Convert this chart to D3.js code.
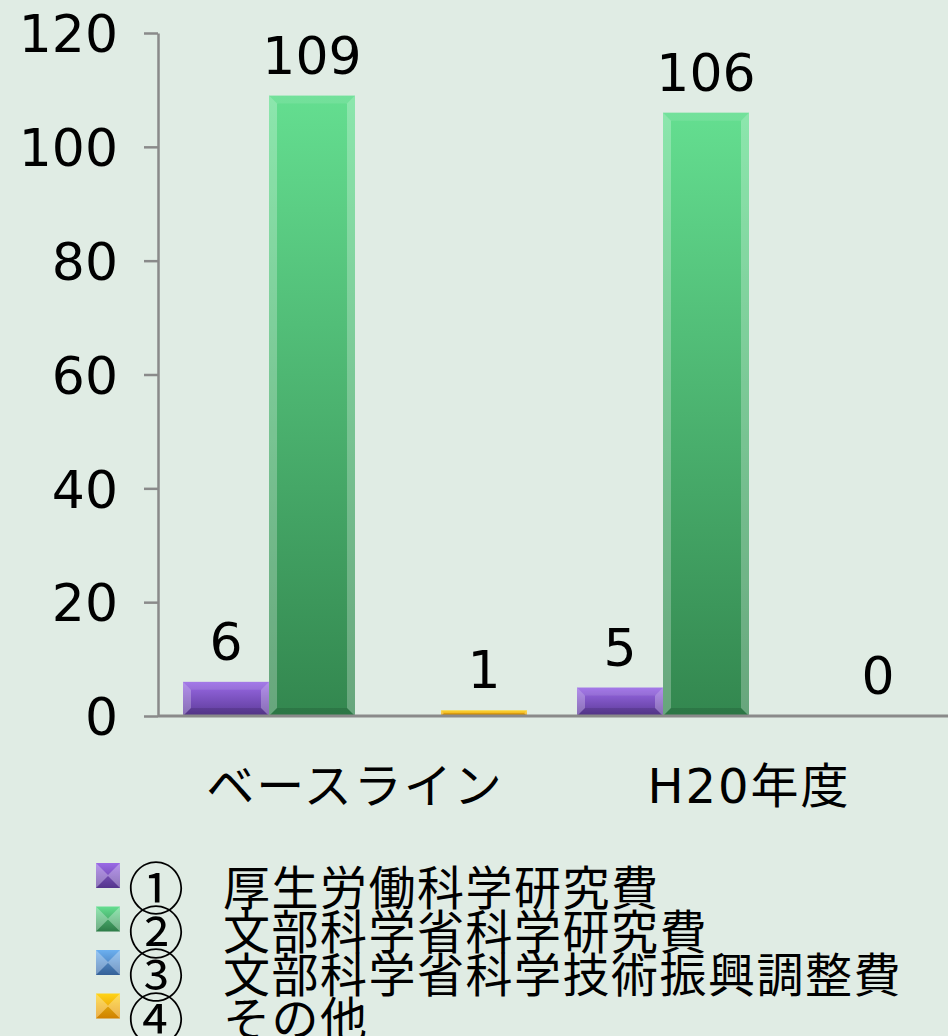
<!DOCTYPE html>
<html>
<head>
<meta charset="utf-8">
<script src="https://cdn.jsdelivr.net/npm/d3@7"></script>
<style>
  html, body { margin: 0; padding: 0; background: #e0ece4; }
  svg { display: block; }
</style>
</head>
<body>
<svg id="chart" width="948" height="1036"></svg>
<script>
// Categories and series
const categories = ["ベースライン", "H20年度"];
const seriesMarks = ["①", "②", "③", "④"];
const seriesNames = [
  "厚生労働科学研究費",
  "文部科学省科学研究費",
  "文部科学省科学技術振興調整費",
  "その他"
];
const seriesValues = [
  [6, 5],        // 厚生労働科学研究費
  [109, 106],    // 文部科学省科学研究費
  [null, null],  // 文部科学省科学技術振興調整費
  [1, 0]         // その他
];
const yTicks = [0, 20, 40, 60, 80, 100, 120];

// Top / bottom colours of each series' gradient
const palette = [
  { top: "#9a6ae6", bottom: "#5c3a98" },
  { top: "#64de90", bottom: "#33874f" },
  { top: "#6cb0f0", bottom: "#3a6aa6" },
  { top: "#ffd417", bottom: "#e28c00" }
];

const svg = d3.select("#chart");
const W = 948, H = 1036;
const numFont = "'DejaVu Sans', 'Noto Sans CJK JP', sans-serif";
const jpFont = "'Noto Sans CJK JP', 'DejaVu Sans', sans-serif";

svg.append("rect").attr("width", W).attr("height", H).attr("fill", "#e0ece4");

const defs = svg.append("defs");
palette.forEach((c, i) => {
  const g = defs.append("linearGradient")
    .attr("id", "grad" + i).attr("x1", 0).attr("y1", 0).attr("x2", 0).attr("y2", 1);
  g.append("stop").attr("offset", "0%").attr("stop-color", c.top);
  g.append("stop").attr("offset", "100%").attr("stop-color", c.bottom);
});

// Scales
const y = d3.scaleLinear().domain([0, 120]).range([716, 33]);
const x0 = d3.scaleBand().domain(categories).range([158, 946]).padding(0);
const x1 = d3.scaleBand().domain(d3.range(seriesNames.length))
  .range([25, x0.bandwidth() - 25]).padding(0);

// Y axis
const yAxis = svg.append("g")
  .attr("transform", "translate(158,0)")
  .call(d3.axisLeft(y).tickValues(yTicks).tickSize(14).tickPadding(26).tickSizeOuter(0));
yAxis.select(".domain").attr("stroke", "#8a8a8a").attr("stroke-width", 2.5);
yAxis.selectAll(".tick line").attr("stroke", "#8a8a8a").attr("stroke-width", 2.5);
yAxis.selectAll(".tick text")
  .attr("font-family", numFont).attr("font-size", 52).attr("fill", "#000")
  .attr("dy", "0.36em");

// Bevelled block: gradient body with lighter sides and a darker bottom edge
function bevel(g, x, yTop, w, h, i, b, shade) {
  const body = g.append("g");
  body.append("rect").attr("x", x).attr("y", yTop).attr("width", w).attr("height", h)
    .attr("fill", `url(#grad${i})`);
  const poly = (pts, fill, op) => body.append("polygon")
    .attr("points", pts.map(p => p.join(",")).join(" "))
    .attr("fill", fill).attr("fill-opacity", op);
  const r = x + w, btm = yTop + h;
  poly([[x, yTop], [r, yTop], [r - b, yTop + b], [x + b, yTop + b]], "#fff", shade.top);
  poly([[x, yTop], [x + b, yTop + b], [x + b, btm - b], [x, btm]], "#fff", shade.side);
  poly([[r, yTop], [r - b, yTop + b], [r - b, btm - b], [r, btm]], "#fff", shade.side);
  poly([[x, btm], [r, btm], [r - b, btm - b], [x + b, btm - b]], "#000", shade.bottom);
}
const barShade = { top: 0.1, side: 0.26, bottom: 0.12 };
const keyShade = { top: 0.0, side: 0.3, bottom: 0.08 };

// Bars
const groups = svg.append("g").selectAll("g").data(categories).join("g")
  .attr("transform", d => `translate(${x0(d)},0)`);

groups.each(function (cat, ci) {
  const g = d3.select(this);
  seriesValues.forEach((vals, si) => {
    const v = vals[ci];
    if (v === null) return;
    const bx = x1(si), bw = x1.bandwidth();
    const yt = y(v), h = y(0) - y(v);
    if (h > 0) bevel(g, bx, yt, bw, h, si, Math.min(8, h / 2, bw / 2), barShade);
    g.append("text")
      .attr("x", bx + bw / 2).attr("y", yt - 22)
      .attr("text-anchor", "middle")
      .attr("font-family", numFont).attr("font-size", 52).attr("fill", "#000")
      .text(v);
  });
});

// X axis baseline
svg.append("line").attr("x1", 158).attr("x2", W).attr("y1", y(0)).attr("y2", y(0))
  .attr("stroke", "#8a8a8a").attr("stroke-width", 3);

// Category labels
svg.append("g").selectAll("text").data(categories).join("text")
  .attr("x", d => x0(d) + x0.bandwidth() / 2)
  .attr("y", 786)
  .attr("dominant-baseline", "central")
  .attr("text-anchor", "middle")
  .attr("font-family", numFont).attr("font-size", 48).attr("fill", "#000")
  .attr("letter-spacing", 2)
  .text(d => d);

// Legend
const legend = svg.append("g").selectAll("g").data(seriesNames).join("g")
  .attr("transform", (d, i) => `translate(0,${884 + i * 43.5})`);
legend.each(function (d, i) {
  bevel(d3.select(this), 96, -21, 24, 25, i, 12, keyShade);
});
const legendText = legend.append("text")
  .attr("y", 0)
  .attr("dominant-baseline", "central")
  .attr("font-family", jpFont).attr("fill", "#000");
legendText.append("tspan")
  .attr("x", 128).attr("font-size", 56)
  .text((d, i) => seriesMarks[i]);
legendText.append("tspan")
  .attr("x", 223).attr("font-size", 47).attr("letter-spacing", 1.5)
  .text(d => d);
</script>
</body>
</html>
